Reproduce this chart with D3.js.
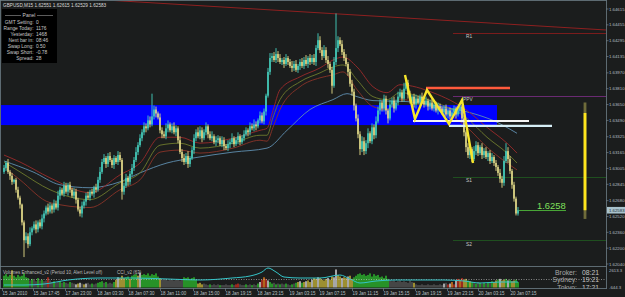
<!DOCTYPE html>
<html><head><meta charset="utf-8">
<script src="https://cdn.jsdelivr.net/npm/d3@7"></script>
<style>html,body{margin:0;padding:0;background:#1b1d1d;overflow:hidden}svg{display:block}</style>
</head><body>
<svg id="c" width="625" height="297"></svg>
<script>
// ---------- DATA (prices in pips above 1.6000) ----------
const symbolTitle = "GBPUSD,M15  1.62551  1.62615  1.62529  1.62583";
const firstOpen = 297;
const closes = [
301,306,297,293,287,289,279,271,264,246,
228,232,224,236,240,244,239,246,242,250,
255,261,257,263,259,265,261,273,279,275,
283,277,284,279,273,277,269,259,255,263,
267,273,271,277,275,281,279,289,297,307,
311,305,313,309,304,311,307,314,309,277,
283,291,287,295,301,309,317,324,331,337,
343,341,349,345,353,360,356,352,339,335,
333,341,345,339,343,337,341,329,317,311,
307,313,305,311,319,331,337,333,339,331,
337,343,335,331,333,327,329,331,325,329,
323,321,325,327,331,325,329,333,327,331,
335,339,337,343,341,345,343,349,354,348,
358,374,398,412,414,410,416,412,408,410,
406,412,408,404,402,406,400,404,408,404,
410,406,412,408,412,408,422,430,420,414,
420,410,406,400,384,408,422,430,426,418,
412,406,398,386,378,364,351,335,320,328,
318,326,336,328,342,334,348,359,367,361,
371,359,351,365,369,361,367,373,377,371,
381,387,375,369,373,365,371,367,373,369,
365,369,363,367,361,365,359,363,361,357,
361,355,359,353,357,361,355,359,363,351,
337,322,314,320,310,318,324,316,322,314,
318,312,316,308,312,306,302,296,290,286,
308,318,310,298,284,270,255,258.3];
const wickUp = [
3,2,4,2,3,1,2,3,2,1, 2,4,3,5,2,3,4,2,3,4, 3,2,4,3,2,4,3,5,3,2, 4,3,2,3,2,4,3,2,3,4,
2,3,4,2,3,2,4,3,5,3, 4,2,3,4,2,3,2,4,3,2, 3,4,2,3,4,3,5,3,4,3, 4,3,5,4,23,4,3,2,4,3,
3,5,4,2,3,4,3,2,4,3, 4,3,5,2,3,4,3,5,4,3, 3,4,2,3,5,2,4,3,2,4, 3,2,4,3,5,2,3,4,2,3,
4,3,2,4,3,5,3,2,4,3, 3,2,4,5,3,4,6,3,4,2, 3,4,2,3,5,3,4,2,3,4, 3,5,2,4,3,4,3,7,4,3,
5,3,4,2,3,5,35,4,3,4, 3,4,2,3,4,3,2,4,3,5, 4,3,5,2,4,3,5,4,3,2, 4,3,2,5,3,4,3,5,4,3,
6,4,3,4,2,3,4,3,2,4, 3,4,2,3,4,2,3,4,3,2, 3,4,2,3,4,3,2,4,3,2, 3,2,4,3,2,5,4,3,2,4,
3,4,2,3,4,2,3,2,4,3, 5,8,4,3,2,3,2,3.2];
const wickDn = [
2,3,2,4,3,2,3,2,4,3, 17,3,4,2,3,2,4,3,2,3, 4,2,3,2,4,3,2,3,4,2, 3,2,4,3,2,3,4,2,3,4,
3,4,2,3,2,4,3,2,3,2, 2,4,3,2,3,4,2,3,2,8, 3,2,4,3,2,3,2,3,2,3, 3,4,2,3,2,3,4,2,3,4,
2,3,4,2,3,2,4,3,2,4, 3,2,4,3,2,4,3,2,3,4, 2,3,4,2,3,2,4,3,2,3, 4,2,3,4,2,3,2,4,3,2,
3,2,4,3,2,3,4,2,3,2, 3,4,2,3,4,2,3,4,2,3, 4,2,3,2,4,3,2,3,4,2, 3,2,4,3,2,3,4,2,3,4,
2,3,4,3,8,2,3,4,2,3, 3,2,4,3,4,5,3,4,6,3, 4,3,5,2,3,4,3,2,4,3, 3,4,5,2,3,4,2,3,2,3,
3,2,4,3,2,3,4,2,3,2, 3,2,4,3,2,3,2,4,3,2, 3,2,4,3,2,3,4,2,3,4, 4,5,3,4,3,2,4,3,2,4,
3,2,4,3,2,3,4,3,4,5, 3,2,4,3,4,3,2,2.1];

// moving averages: [bar, pips]
const maUpper = [[0,314],[8,307],[23,291],[43,276],[58,294],[68,306],[78,332],[88,332],[98,326],[114.5,331],[128,339],[131.5,341],[134.5,359],[138,380],[148,393],[158,402],[164.5,410],[169.5,413],[176.5,403],[184.5,383],[191.5,377],[198,385],[214.5,377],[231.5,359],[241.5,342],[251.5,326],[256.5,316]];
const maMid = [[0,307],[8,297],[23,279],[43,269],[58,286],[68,296],[78,324],[88,326],[98,321],[114.5,326],[128,334],[131.5,334],[134.5,352],[138,370],[148,388],[158,397],[164.5,403],[169.5,405],[176.5,390],[184.5,373],[191.5,370],[198,377],[214.5,368],[231.5,351],[241.5,332],[251.5,316],[256.5,306]];
const maLower = [[0,302],[8,289],[23,266],[43,261],[58,279],[68,289],[78,317],[88,319],[98,316],[114.5,321],[128,329],[131.5,328],[134.5,342],[138,360],[148,383],[158,392],[164.5,395],[169.5,398],[176.5,380],[184.5,363],[191.5,360],[198,370],[214.5,363],[231.5,342],[241.5,322],[251.5,306],[256.5,299]];
const maSlow = [[0,308],[14.5,297],[28,284],[43,281],[58,287],[68,296],[81.5,306],[94.5,311],[114.5,317],[131.5,321],[141.5,339],[153,360],[164.5,370],[171.5,376],[176.5,373],[184.5,369],[201.5,368],[218,363],[234.5,356],[244.5,349],[256.5,336]];

// levels
const bandTop = 364.5, bandBottom = 344.3, bandEndBar = 246.5;
const trendBars = [50.5, 301], trendValues = [470.6, 440.3];
const pivotNames = ["R1","PPV","S1","S2"];
const pivotValues = [437.3, 373.7, 291.9, 228.2];
const pivotStartBar = 224.5;
const redLevel = {value:381.7, from:211, to:253};
const whiteLevels = [{value:348.4, from:204.5, to:262.5},{value:343.4, from:222.5, to:274}];
const zzBars = [200.5,205.5,211.5,222.5,229,234.5];
const zzValues = [394.9,350.4,379.7,345.4,369.6,306];
const dayBar = 290.5, dayOpen = 356.5, dayHigh = 367.1, dayLow = 249.5, dayClose = 258.3;
const bigPriceText = "1.6258";
const curPriceText = "1.62583";

const priceTicks = ["1.64615","1.64455","1.64295","1.64135","1.63970","1.63810","1.63650","1.63490","1.63325","1.63165","1.63005","1.62845","1.62680","1.62520","1.62360","1.62200","1.62040"];
const timeTicks = ["15 Jan 2010","15 Jan 17:45","17 Jan 23:00","18 Jan 03:30","18 Jan 07:30","18 Jan 11:00","18 Jan 15:00","18 Jan 19:15","18 Jan 23:15","19 Jan 03:15","19 Jan 07:15","19 Jan 11:15","19 Jan 15:15","19 Jan 19:15","19 Jan 23:15","20 Jan 03:15","20 Jan 07:15"];
const timeTickBars = [-1,14.5,30.5,46.5,62,78,94.5,110.5,126.5,142.5,157.5,174,189.5,205.5,221.5,237,253];

// volumes subwindow
const volumes = [
1500,1700,1400,1600,2200,1500,1300,1600,1400,1500, 1800,1300,1200,900,1100,1000,800,1200,900,1000,
800,900,1300,900,700,800,600,700,800,600, 700,600,500,700,600,500,400,500,600,500,
400,500,600,400,500,400,500,600,700,800, 600,700,500,600,500,700,1000,1300,1200,1500,
1200,1300,1400,1100,1500,1600,1700,1500,1900,1600, 1700,1600,1800,1500,1700,1600,1800,1400,1200,1000,
1000,1100,900,1000,1100,900,1000,1100,900,1000, 1300,1200,1300,1100,1200,1300,1000,500,600,400,
500,400,300,400,300,400,300,400,300,300, 300,400,300,300,400,300,400,500,400,300,
300,400,300,400,300,400,300,500,700,1000, 1300,1100,900,700,500,600,400,500,400,500,
400,500,400,300,400,500,600,700,800,600, 700,800,900,700,1000,1200,1100,1300,1200,1000,
900,1100,1200,1000,1400,1300,2300,1600,1400,1200, 1300,1200,1400,1500,1100,1300,1500,1700,1800,1600,
1700,1500,1600,1800,1400,1700,1500,1600,1300,1400, 1200,1500,1100,900,800,900,700,800,900,700,
800,700,600,900,700,600,400,300,300,400, 300,300,400,300,300,400,300,300,400,300,
500,600,400,500,700,400,900,1100,1000,1200, 1000,1100,900,800,700,600,500,700,600,500,
600,500,700,600,800,700,900,1000,1100,900, 1000,1100,900,1000,800,900,1000,700];
const volKinds = ("ggggyggggg"+"gggkgkkgkg"+"kkrkkgkkgk"+"gkkgkkwywk"+"ywkkgkkggg"+"kgkkkgywyy"+
  "yggygggywg"+"ggggggggyk"+"kkkkkkkkkk"+"gggggggyyy"+"kkkgkkkkgk"+"kkkkgkrrkk"+"kgkkgkkgwr"+
  "orwggkgkgk"+"kgkkgkgywg"+"ywyywyywyy"+"yywyywwyyw"+"yywyyggggg"+"gggggggggg"+"gggkkkkkkk"+
  "kkkkkykkkk"+"kkkkkkkkkk"+"wkrworwror"+"yygygkgkgk"+"gkgkgyygwy"+"ygwgyygg").split("");
const cciPoints = [[0,-110],[10,-110],[20,-90],[32,-10],[48,30],[64,30],[82,10],[98,-10],[114,30],[123,70],[129,150],[132,230],[136,150],[140,50],[148,30],[158,30],[168,90],[173,10],[178,-70],[186,-30],[196,-10],[208,-10],[220,-10],[230,-30],[238,-70],[248,-50],[257,-50]];
const subMaxLabel = "2613.3", subMinLabel = "-644.3";
const subTitle = "Volumes Enhanced_v2 (Period 10, Alert Level off)";
const cciTitle = "CCI_v2 (63)";

// panel & clocks
const panelLabels = ["GMT Setting:","Range Today:","Yesterday:","Next bar in:","Swap Long:","Swap Short:","Spread:"];
const panelValues = ["0","1176","1468","08:46","0.50","-0.78","28"];
const clockLabels = ["Broker:","Sydney:","Tokyo:"];
const clockTimes = ["08:21","19:21","17:21"];

// ---------- DRAW ----------
const svg = d3.select('#c');
const W = 625, H = 297;
const font = "'Liberation Sans', Arial, sans-serif";
svg.append('rect').attr('width',W).attr('height',H).attr('fill','#1b1d1d');

const x = d3.scaleLinear().domain([0,257]).range([4,518]);
const y = d3.scaleLinear().domain([204.0,461.5]).range([264,9]);
const pip = s => (parseFloat(s)-1.6)*1e4;

const defs = svg.append('defs');
defs.append('clipPath').attr('id','mainClip').append('rect').attr('x',1).attr('y',1).attr('width',605).attr('height',265);
defs.append('clipPath').attr('id','subClip').append('rect').attr('x',1).attr('y',267).attr('width',605).attr('height',21.5);

const main = svg.append('g').attr('clip-path','url(#mainClip)');

// blue band
main.append('rect').attr('x',0).attr('y',y(bandTop)).attr('width',x(bandEndBar)).attr('height',y(bandBottom)-y(bandTop)).attr('fill','#0000ff');

// trendline
main.append('line').attr('x1',x(trendBars[0])).attr('y1',y(trendValues[0])).attr('x2',x(trendBars[1])).attr('y2',y(trendValues[1]))
  .attr('stroke','#8e2020').attr('stroke-width',1);

// pivot lines
const pivotColors = ['#7a1c1c','#6a2a72','#1f4f1f','#1f4f1f'];
pivotValues.forEach((v,k)=>{
  main.append('line').attr('x1',x(pivotStartBar)).attr('x2',606).attr('y1',Math.round(y(v))+0.5).attr('y2',Math.round(y(v))+0.5)
    .attr('stroke',pivotColors[k]).attr('stroke-width',1);
  main.append('text').attr('x',x(pivotStartBar)+ (k===1?10:13)).attr('y',y(v)+5.5).text(pivotNames[k])
    .attr('font-family',font).attr('font-size',4.8).attr('fill','#c8c8c8');
});

// moving averages
const maLine = d3.line().x(d=>x(d[0])).y(d=>y(d[1])).curve(d3.curveMonotoneX);
[[maSlow,'#5f8fb0'],[maUpper,'#9a2a2a'],[maMid,'#6e7a2c'],[maLower,'#8a3328']].forEach(([pts,col])=>{
  main.append('path').attr('d',maLine(pts)).attr('fill','none').attr('stroke',col).attr('stroke-width',0.9);
});

// candles
const candles = closes.map((c,i)=>{
  const o = i===0 ? firstOpen : closes[i-1];
  return {i,o,c,h:Math.max(o,c)+wickUp[i],l:Math.min(o,c)-wickDn[i]};
});
const cg = main.append('g');
candles.forEach(d=>{
  const col = d.c>=d.o ? '#46d2c0' : '#e6de8a';
  const cx = x(d.i);
  cg.append('rect').attr('x',cx-0.45).attr('width',0.9).attr('y',y(d.h)).attr('height',Math.max(0.8,y(d.l)-y(d.h))).attr('fill',col);
  const top = y(Math.max(d.o,d.c)), bot = y(Math.min(d.o,d.c));
  cg.append('rect').attr('x',cx-0.75).attr('width',1.5).attr('y',top).attr('height',Math.max(0.8,bot-top)).attr('fill',col);
});

// levels
main.append('line').attr('x1',x(redLevel.from)).attr('x2',x(redLevel.to)).attr('y1',y(redLevel.value)).attr('y2',y(redLevel.value))
  .attr('stroke','#ff5a3c').attr('stroke-width',2.6);
whiteLevels.forEach((L,k)=>{
  main.append('line').attr('x1',x(L.from)).attr('x2',x(L.to)).attr('y1',y(L.value)).attr('y2',y(L.value))
    .attr('stroke',k===0?'#f4f4f4':'#d6eef6').attr('stroke-width',2.2);
});

// zigzag
const zz = zzBars.map((b,k)=>[b,zzValues[k]]);
main.append('path').attr('d',d3.line().x(d=>x(d[0])).y(d=>y(d[1]))(zz)).attr('fill','none')
  .attr('stroke','#f6e62c').attr('stroke-width',2.4).attr('stroke-linejoin','miter');

// daily candle
const dx = x(dayBar);
main.append('rect').attr('x',dx-1.4).attr('width',2.8).attr('y',y(dayHigh)).attr('height',y(dayLow)-y(dayHigh)).attr('fill','#6e6b3a');
main.append('rect').attr('x',dx-1.4).attr('width',2.8).attr('y',y(dayOpen)).attr('height',y(dayClose)-y(dayOpen)).attr('fill','#ffe51c');

// big price label
const lastX = x(closes.length-1);
main.append('line').attr('x1',lastX+1).attr('x2',lastX+48).attr('y1',y(dayClose)+0.3).attr('y2',y(dayClose)+0.3).attr('stroke','#4fb83a').attr('stroke-width',0.9);
main.append('text').attr('x',lastX+19).attr('y',y(dayClose)-1.6).text(bigPriceText)
  .attr('font-family',font).attr('font-size',9.4).attr('fill','#7fe05c');

// panel
svg.append('rect').attr('x',2).attr('y',9).attr('width',55).attr('height',54).attr('fill','#000');
svg.append('text').attr('x',29).attr('y',17.4).attr('text-anchor','middle').text('Panel')
  .attr('font-family',font).attr('font-size',5).attr('fill','#c8c8c8');
svg.append('line').attr('x1',5).attr('x2',21).attr('y1',15.5).attr('y2',15.5).attr('stroke','#9a9a9a').attr('stroke-width',0.6);
svg.append('line').attr('x1',37).attr('x2',53).attr('y1',15.5).attr('y2',15.5).attr('stroke','#9a9a9a').attr('stroke-width',0.6);
panelLabels.forEach((t,k)=>{
  svg.append('text').attr('x',33.5).attr('y',23.6+6*k).attr('text-anchor','end').text(t)
    .attr('font-family',font).attr('font-size',4.9).attr('fill','#c8c8c8');
  svg.append('text').attr('x',36).attr('y',23.6+6*k).text(panelValues[k])
    .attr('font-family',font).attr('font-size',4.9).attr('fill','#c8c8c8');
});

// title
svg.append('text').attr('x',3).attr('y',6.6).text(symbolTitle).attr('font-family',font).attr('font-size',4.7).attr('fill','#d8d8d8');

// frame lines
const frame = '#6f7f88';
svg.append('line').attr('x1',0).attr('x2',606.5).attr('y1',0.5).attr('y2',0.5).attr('stroke',frame).attr('stroke-width',0.8);
svg.append('line').attr('x1',0.5).attr('x2',0.5).attr('y1',0).attr('y2',289).attr('stroke',frame).attr('stroke-width',0.8);
svg.append('line').attr('x1',606.5).attr('x2',606.5).attr('y1',0).attr('y2',289).attr('stroke',frame).attr('stroke-width',0.8);
svg.append('line').attr('x1',0).attr('x2',606.5).attr('y1',266.5).attr('y2',266.5).attr('stroke',frame).attr('stroke-width',0.8);
svg.append('line').attr('x1',0).attr('x2',606.5).attr('y1',288.5).attr('y2',288.5).attr('stroke',frame).attr('stroke-width',0.8);

// price axis
priceTicks.forEach(t=>{
  const yy = y(pip(t));
  svg.append('line').attr('x1',606.5).attr('x2',608.5).attr('y1',yy).attr('y2',yy).attr('stroke','#8a969c').attr('stroke-width',0.6);
  svg.append('text').attr('x',609).attr('y',yy+1.6).text(t).attr('font-family',font).attr('font-size',4.3).attr('fill','#b4bec2');
});
const cy = y(pip(curPriceText));
svg.append('rect').attr('x',607).attr('y',cy-3.3).attr('width',18).attr('height',6.6).attr('fill','#a9c2cc');
svg.append('text').attr('x',609).attr('y',cy+1.6).text(curPriceText).attr('font-family',font).attr('font-size',4.3).attr('fill','#1e2e36');

// subwindow
const sub = svg.append('g').attr('clip-path','url(#subClip)');
const vy = d3.scaleLinear().domain([0,2613.3]).range([287.5,267]);
const cciY = d3.scaleLinear().domain([-150,250]).range([287,267]);
const volColor = {g:'#2ed12e',k:'#5c5c5c',y:'#e2cc3c',w:'#f2f2f2',r:'#e0301e',o:'#ff8a1e'};
volumes.forEach((v,i)=>{
  sub.append('rect').attr('x',x(i)-0.65).attr('width',1.3).attr('y',vy(v)).attr('height',vy(0)-vy(v)).attr('fill',volColor[volKinds[i]]);
});
sub.append('line').attr('x1',1).attr('x2',606).attr('y1',cciY(0)).attr('y2',cciY(0)).attr('stroke','#cfcfcf').attr('stroke-width',0.6).attr('stroke-dasharray','1,1.5');
sub.append('path').attr('d',d3.line().x(d=>x(d[0])).y(d=>cciY(d[1])).curve(d3.curveMonotoneX)(cciPoints))
  .attr('fill','none').attr('stroke','#35c4c8').attr('stroke-width',1);
sub.append('text').attr('x',3).attr('y',273.8).text(subTitle).attr('font-family',font).attr('font-size',4.5).attr('fill','#bcbcbc');
sub.append('text').attr('x',117).attr('y',273.8).text(cciTitle).attr('font-family',font).attr('font-size',4.5).attr('fill','#bcbcbc');
clockLabels.forEach((t,k)=>{
  sub.append('text').attr('x',577).attr('y',274.8+7.4*k).attr('text-anchor','end').text(t).attr('font-family',font).attr('font-size',6.8).attr('fill','#a8a8a8');
  sub.append('text').attr('x',582).attr('y',274.8+7.4*k).text(clockTimes[k]).attr('font-family',font).attr('font-size',6.8).attr('fill','#c4c4c4');
});
svg.append('text').attr('x',609).attr('y',271.5).text(subMaxLabel).attr('font-family',font).attr('font-size',4.3).attr('fill','#b4bec2');
svg.append('text').attr('x',609).attr('y',289).text(subMinLabel).attr('font-family',font).attr('font-size',4.3).attr('fill','#b4bec2');

// time axis
timeTicks.forEach((t,k)=>{
  const xx = x(timeTickBars[k]);
  svg.append('line').attr('x1',xx+0.5).attr('x2',xx+0.5).attr('y1',288.5).attr('y2',291).attr('stroke','#8a969c').attr('stroke-width',0.6);
  svg.append('text').attr('x',xx+0.5).attr('y',295.3).text(t).attr('font-family',font).attr('font-size',4.5).attr('fill','#b8c0c4');
});
</script>
</body></html>
